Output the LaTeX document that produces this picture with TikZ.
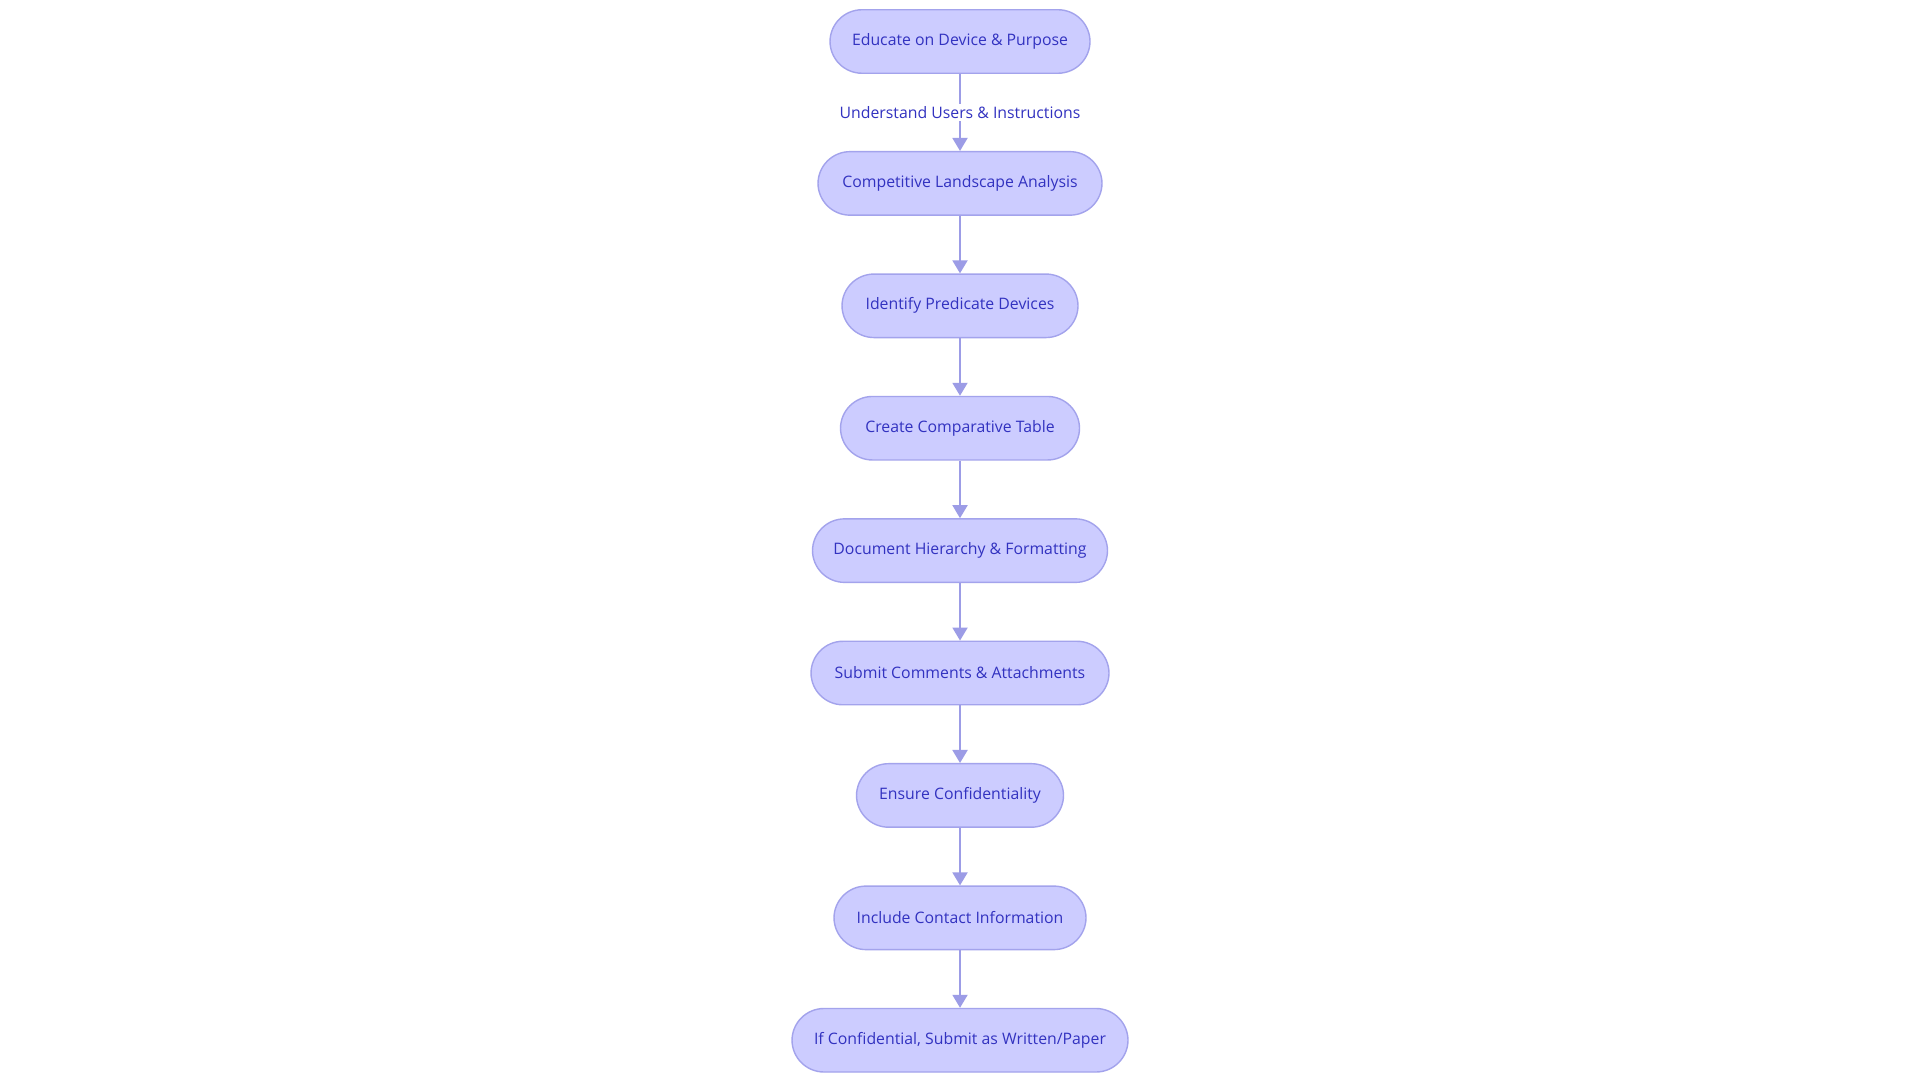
\documentclass[tikz,border=0pt]{standalone}
\usepackage{fontspec}
\setmainfont{Open Sans}
\usepackage{tikz}
\usetikzlibrary{arrows.meta,positioning}
\definecolor{stepfill}{HTML}{CCCCFF}
\definecolor{stepline}{HTML}{A3A3EC}
\definecolor{steptext}{HTML}{3232C0}
\definecolor{flowline}{HTML}{9C9CE6}

\begin{document}
\begin{tikzpicture}[
		s/.style={rounded corners=0.64cm,draw=stepline,line width=0.8pt,fill=stepfill,
				minimum height=1.27cm,align=center,text=steptext,font=\fontsize{9}{10}\selectfont},
		a/.style={-{Triangle[length=0.26cm,width=0.3cm]},draw=flowline,line width=1.1pt},
		lbl/.style={fill=white,text=steptext,inner sep=1.5pt,font=\fontsize{9}{10}\selectfont},
		node distance=1.15cm
		]
		\useasboundingbox[fill=white] (0,0) rectangle (38.4,-21.6);
		\node[s,minimum width=5.2cm] (edu) at (19.2,-0.83) {Educate on Device \& Purpose};
		\node[s,minimum width=5.68cm,below=1.54cm of edu] (comp) {Competitive Landscape Analysis};
		\node[s,minimum width=4.72cm,below=of comp] (pred) {Identify Predicate Devices};
		\node[s,minimum width=4.78cm,below=of pred] (tab) {Create Comparative Table};
		\node[s,minimum width=5.9cm,below=of tab] (doc) {Document Hierarchy \& Formatting};
		\node[s,minimum width=5.96cm,below=of doc] (sub) {Submit Comments \& Attachments};
		\node[s,minimum width=4.14cm,below=of sub] (conf) {Ensure Confidentiality};
		\node[s,minimum width=5.04cm,below=of conf] (cont) {Include Contact Information};
		\node[s,minimum width=6.72cm,below=of cont] (paper) {If Confidential, Submit as Written/Paper};
		\draw[a] (edu) -- node[lbl]{Understand Users \& Instructions} (comp);
		\draw[a] (comp) -- (pred);
		\draw[a] (pred) -- (tab);
		\draw[a] (tab) -- (doc);
		\draw[a] (doc) -- (sub);
		\draw[a] (sub) -- (conf);
		\draw[a] (conf) -- (cont);
		\draw[a] (cont) -- (paper);
	\end{tikzpicture}
\end{document}
